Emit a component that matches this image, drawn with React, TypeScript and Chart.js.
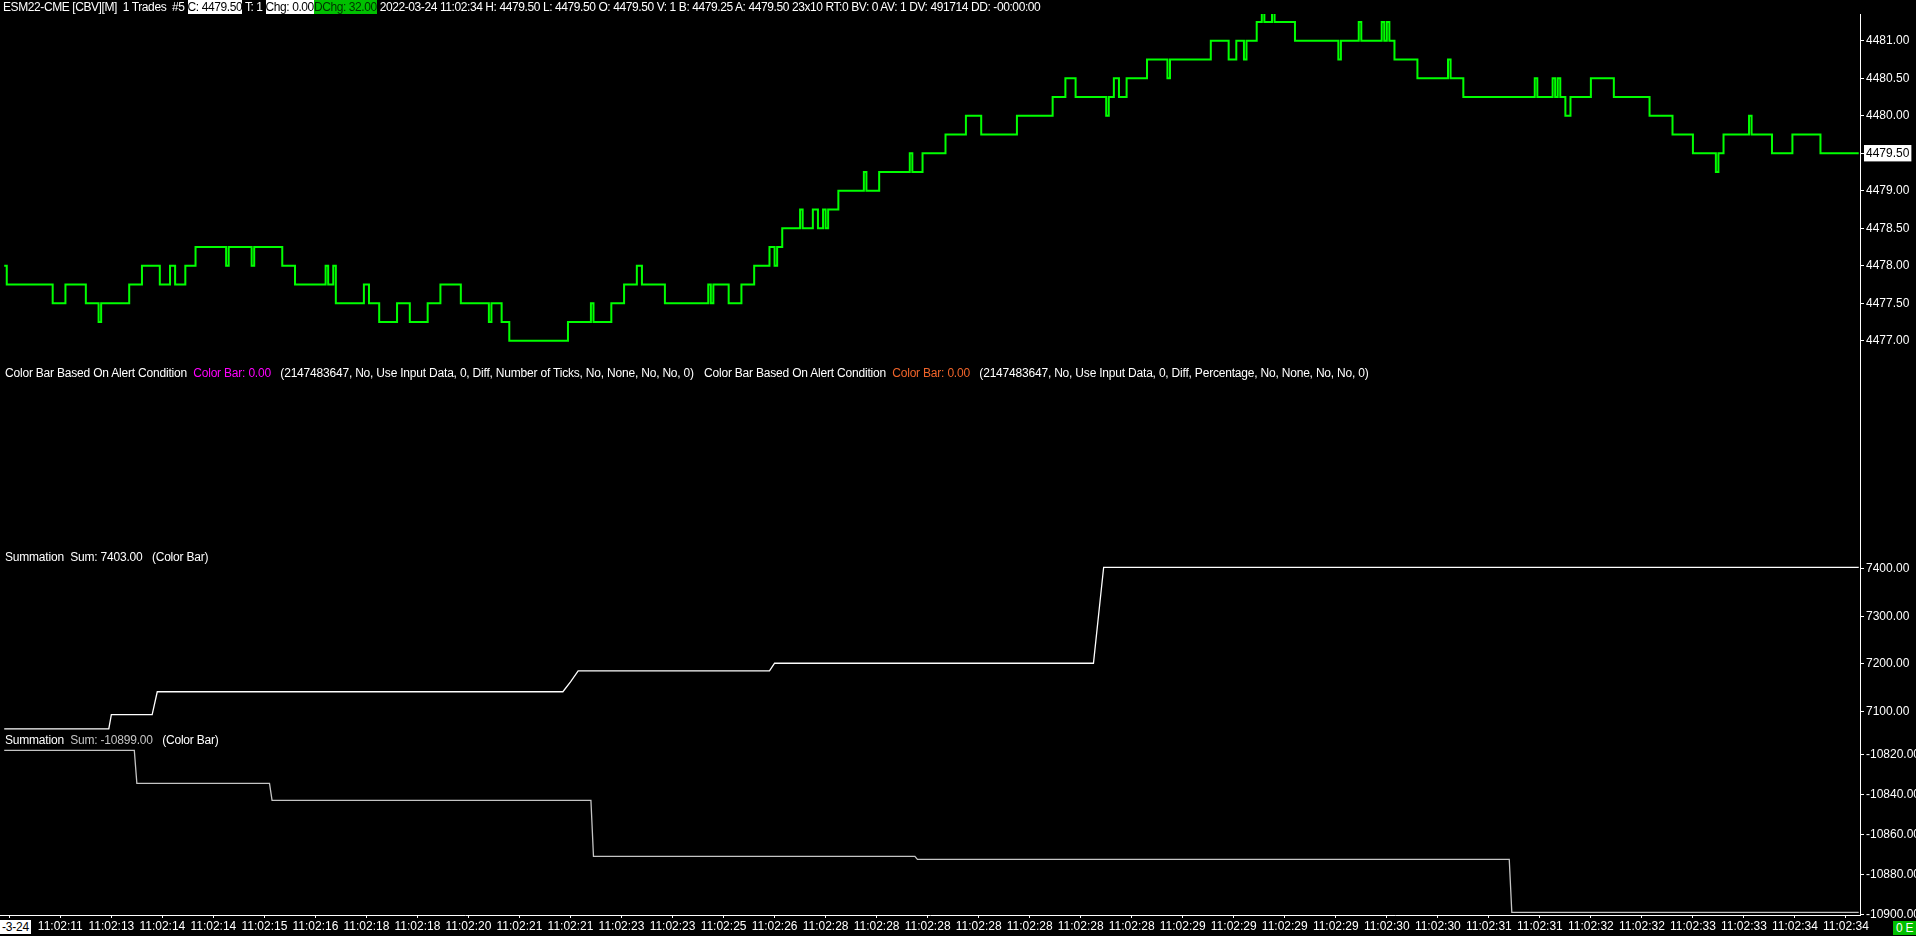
import React, { useEffect, useRef } from 'react'
import { Chart, registerables } from 'chart.js'

Chart.register(...registerables)

// x axis: one bar per trade, a time label every 20 bars
const timeLabels = [
  '-3-24', '11:02:11', '11:02:13', '11:02:14', '11:02:14', '11:02:15', '11:02:16', '11:02:18',
  '11:02:18', '11:02:20', '11:02:21', '11:02:21', '11:02:23', '11:02:23', '11:02:25', '11:02:26',
  '11:02:28', '11:02:28', '11:02:28', '11:02:28', '11:02:28', '11:02:28', '11:02:28',
  '11:02:29', '11:02:29', '11:02:29', '11:02:29', '11:02:30', '11:02:30', '11:02:31', '11:02:31',
  '11:02:32', '11:02:32', '11:02:33', '11:02:33', '11:02:34', '11:02:34',
]
const firstLabelBar = 2
const barsPerLabel = 20

// price: bar index where the last trade price changes, and the new price
const priceBars = [
  0, 1, 19, 24, 32, 37, 38, 49, 54, 61, 65, 67, 71, 75, 87, 88, 97, 98, 109, 114,
  126, 127, 129, 130, 141, 143, 147, 154, 159, 166, 171, 179, 190, 191, 195, 198, 221, 230, 231, 238,
  243, 248, 250, 259, 276, 277, 278, 284, 289, 294, 300, 302, 303, 305, 312, 313, 317, 319, 321, 322,
  323, 327, 337, 338, 343, 355, 356, 360, 369, 377, 383, 397, 411, 416, 420, 432, 433, 435, 437, 440,
  448, 456, 457, 473, 480, 483, 486, 487, 491, 493, 494, 497, 498, 506, 523, 524, 531, 532, 540, 541,
  542, 543, 545, 554, 566, 567, 572, 600, 601, 607, 608, 609, 610, 612, 614, 622, 631, 645, 654, 662,
  671, 672, 674, 684, 685, 693, 701, 712, 727,
]
const priceLevels = [
  4478.0, 4477.75, 4477.5, 4477.75, 4477.5, 4477.25, 4477.5, 4477.75, 4478.0, 4477.75, 4478.0, 4477.75, 4478.0, 4478.25, 4478.0, 4478.25, 4478.0, 4478.25, 4478.0, 4477.75,
  4478.0, 4477.75, 4478.0, 4477.5, 4477.75, 4477.5, 4477.25, 4477.5, 4477.25, 4477.5, 4477.75, 4477.5, 4477.25, 4477.5, 4477.25, 4477.0, 4477.25, 4477.5, 4477.25, 4477.5,
  4477.75, 4478.0, 4477.75, 4477.5, 4477.75, 4477.5, 4477.75, 4477.5, 4477.75, 4478.0, 4478.25, 4478.0, 4478.25, 4478.5, 4478.75, 4478.5, 4478.75, 4478.5, 4478.75, 4478.5,
  4478.75, 4479.0, 4479.25, 4479.0, 4479.25, 4479.5, 4479.25, 4479.5, 4479.75, 4480.0, 4479.75, 4480.0, 4480.25, 4480.5, 4480.25, 4480.0, 4480.25, 4480.5, 4480.25, 4480.5,
  4480.75, 4480.5, 4480.75, 4481.0, 4480.75, 4481.0, 4480.75, 4481.0, 4481.25, 4481.5, 4481.25, 4481.5, 4481.25, 4481.0, 4480.75, 4481.0, 4481.25, 4481.0, 4481.25, 4481.0,
  4481.25, 4481.0, 4480.75, 4480.5, 4480.75, 4480.5, 4480.25, 4480.5, 4480.25, 4480.5, 4480.25, 4480.5, 4480.25, 4480.0, 4480.25, 4480.5, 4480.25, 4480.0, 4479.75, 4479.5,
  4479.25, 4479.5, 4479.75, 4480.0, 4479.75, 4479.5, 4479.75, 4479.5, 4479.5,
]
const priceTicks = [4477.0, 4477.5, 4478.0, 4478.5, 4479.0, 4479.5, 4480.0, 4480.5, 4481.0]

const sum1Bars = [0, 41, 42, 58, 60, 219, 222, 225, 300, 302, 427, 431, 727]
const sum1Values = [7063, 7063, 7093, 7093, 7141, 7141, 7162, 7185, 7185, 7201, 7201, 7403, 7403]
const sum1Ticks = [7100, 7200, 7300, 7400]

const sum2Bars = [0, 51, 52, 104, 105, 230, 231, 357, 358, 590, 591, 727]
const sum2Values = [-10818, -10818, -10834.5, -10834.5, -10843, -10843, -10871, -10871, -10872.5, -10872.5, -10899, -10899]
const sum2Ticks = [-10820, -10840, -10860, -10880, -10900]

const lastPrice = priceLevels[priceLevels.length - 1]

const FONT = "'Liberation Sans', Arial, sans-serif"

const yAxis = (weight: number, min: number, max: number, ticks: number[], extra: any = {}) => ({
  type: 'linear',
  position: 'right',
  stack: 'panels',
  stackWeight: weight,
  min,
  max,
  afterFit: (s: any) => {
    s.width = 56
  },
  afterBuildTicks: (s: any) => {
    s.ticks = ticks.map((v) => ({ value: v }))
  },
  grid: { drawOnChartArea: false, color: '#ffffff', tickLength: 4, drawTicks: ticks.length > 0 },
  border: { color: '#ffffff', width: 1 },
  ticks: {
    display: ticks.length > 0,
    color: '#ffffff',
    padding: 2,
    font: { family: FONT, size: 12 },
    callback: (v: any) => Number(v).toFixed(2),
    ...extra,
  },
})

const span = (bg: string, color: string) => ({ background: bg, color })

const App = () => {
  const canvasRef = useRef<HTMLCanvasElement | null>(null)

  useEffect(() => {
    if (!canvasRef.current) return
    const chart = new Chart(canvasRef.current, {
      type: 'line',
      data: {
        datasets: [
          {
            label: 'ESM22-CME',
            data: priceBars.map((b, i) => ({ x: b, y: priceLevels[i] })),
            xAxisID: 'x',
            yAxisID: 'yPrice',
            stepped: 'before',
            borderColor: '#00ff00',
            borderWidth: 2,
            pointRadius: 0,
          },
          {
            label: 'Summation 1',
            data: sum1Bars.map((b, i) => ({ x: b, y: sum1Values[i] })),
            xAxisID: 'x',
            yAxisID: 'ySum1',
            borderColor: '#ffffff',
            borderWidth: 1.3,
            pointRadius: 0,
          },
          {
            label: 'Summation 2',
            data: sum2Bars.map((b, i) => ({ x: b, y: sum2Values[i] })),
            xAxisID: 'x',
            yAxisID: 'ySum2',
            borderColor: '#c4c4c4',
            borderWidth: 1.3,
            pointRadius: 0,
          },
        ],
      },
      options: {
        animation: false,
        responsive: true,
        maintainAspectRatio: false,
        events: [],
        layout: { padding: { top: 14, left: 0, right: 0, bottom: 0 } },
        plugins: {
          legend: { display: false },
          tooltip: { enabled: false },
        },
        scales: {
          x: {
            type: 'linear',
            position: 'bottom',
            min: -1.65,
            max: 727.5,
            afterFit: (s: any) => {
              s.height = 21
            },
            afterBuildTicks: (s: any) => {
              s.ticks = timeLabels.map((_, k) => ({ value: firstLabelBar + k * barsPerLabel }))
            },
            grid: { drawOnChartArea: false, color: '#ffffff', tickLength: 3 },
            border: { color: '#ffffff', width: 1 },
            ticks: {
              autoSkip: false,
              maxRotation: 0,
              padding: 1,
              color: '#ffffff',
              font: { family: FONT, size: 12 },
              callback: (_v: any, i: number) => (i === 0 ? '' : timeLabels[i]),
            },
          },
          yPrice: yAxis(352, 4476.663, 4481.356, priceTicks, {
            showLabelBackdrop: true,
            backdropPadding: { x: 2, y: 1 },
            backdropColor: (ctx: any) => (ctx.tick && ctx.tick.value === lastPrice ? '#ffffff' : 'rgba(0,0,0,0)'),
            color: (ctx: any) => (ctx.tick && ctx.tick.value === lastPrice ? '#000000' : '#ffffff'),
          }),
          yBar: yAxis(182, 0, 1, []),
          ySum1: yAxis(183, 7058.4, 7443.6, sum1Ticks),
          ySum2: yAxis(184, -10900.35, -10808.35, sum2Ticks),
        } as any,
      },
    } as any)

    return () => chart.destroy()
  }, [])

  const text: React.CSSProperties = {
    position: 'absolute',
    fontFamily: FONT,
    fontSize: 12,
    lineHeight: '14px',
    whiteSpace: 'pre',
    color: '#ffffff',
    letterSpacing: '-0.2px',
  }

  return (
    <div style={{ position: 'fixed', left: 0, top: 0, width: 1916, height: 936, background: '#000000', overflow: 'hidden' }}>
      <canvas ref={canvasRef} />
      <div style={{ ...text, left: 3, top: 0, letterSpacing: '-0.41px' }}>
        {'ESM22-CME [CBV][M]  1 Trades  #5 '}
        <span style={span('#ffffff', '#000000')}>C: 4479.50</span>
        {' T: 1 '}
        <span style={span('#ffffff', '#000000')}>Chg: 0.00</span>
        <span style={span('#00c000', '#003000')}>DChg: 32.00</span>
        {' 2022-03-24 11:02:34 H: 4479.50 L: 4479.50 O: 4479.50 V: 1 B: 4479.25 A: 4479.50 23x10 RT:0 BV: 0 AV: 1 DV: 491714 DD: -00:00:00'}
      </div>
      <div style={{ ...text, left: 5, top: 366 }}>
        {'Color Bar Based On Alert Condition  '}
        <span style={{ color: '#ff00ff' }}>Color Bar: 0.00</span>
        {'   (2147483647, No, Use Input Data, 0, Diff, Number of Ticks, No, None, No, No, 0)'}
      </div>
      <div style={{ ...text, left: 704, top: 366 }}>
        {'Color Bar Based On Alert Condition  '}
        <span style={{ color: '#f0642a' }}>Color Bar: 0.00</span>
        {'   (2147483647, No, Use Input Data, 0, Diff, Percentage, No, None, No, No, 0)'}
      </div>
      <div style={{ ...text, left: 5, top: 550 }}>
        {'Summation  Sum: 7403.00   (Color Bar)'}
      </div>
      <div style={{ ...text, left: 5, top: 733 }}>
        {'Summation  '}
        <span style={{ color: '#c4c4c4' }}>Sum: -10899.00</span>
        {'   (Color Bar)'}
      </div>
      <div style={{ ...text, left: 0, top: 920, padding: '0 2px', background: '#ffffff', color: '#000000' }}>
        {timeLabels[0]}
      </div>
      <div style={{ ...text, left: 1893, top: 921, padding: '0 3px', background: '#00c000', color: '#ffffff' }}>
        {'0 E'}
      </div>
    </div>
  )
}

export default App
